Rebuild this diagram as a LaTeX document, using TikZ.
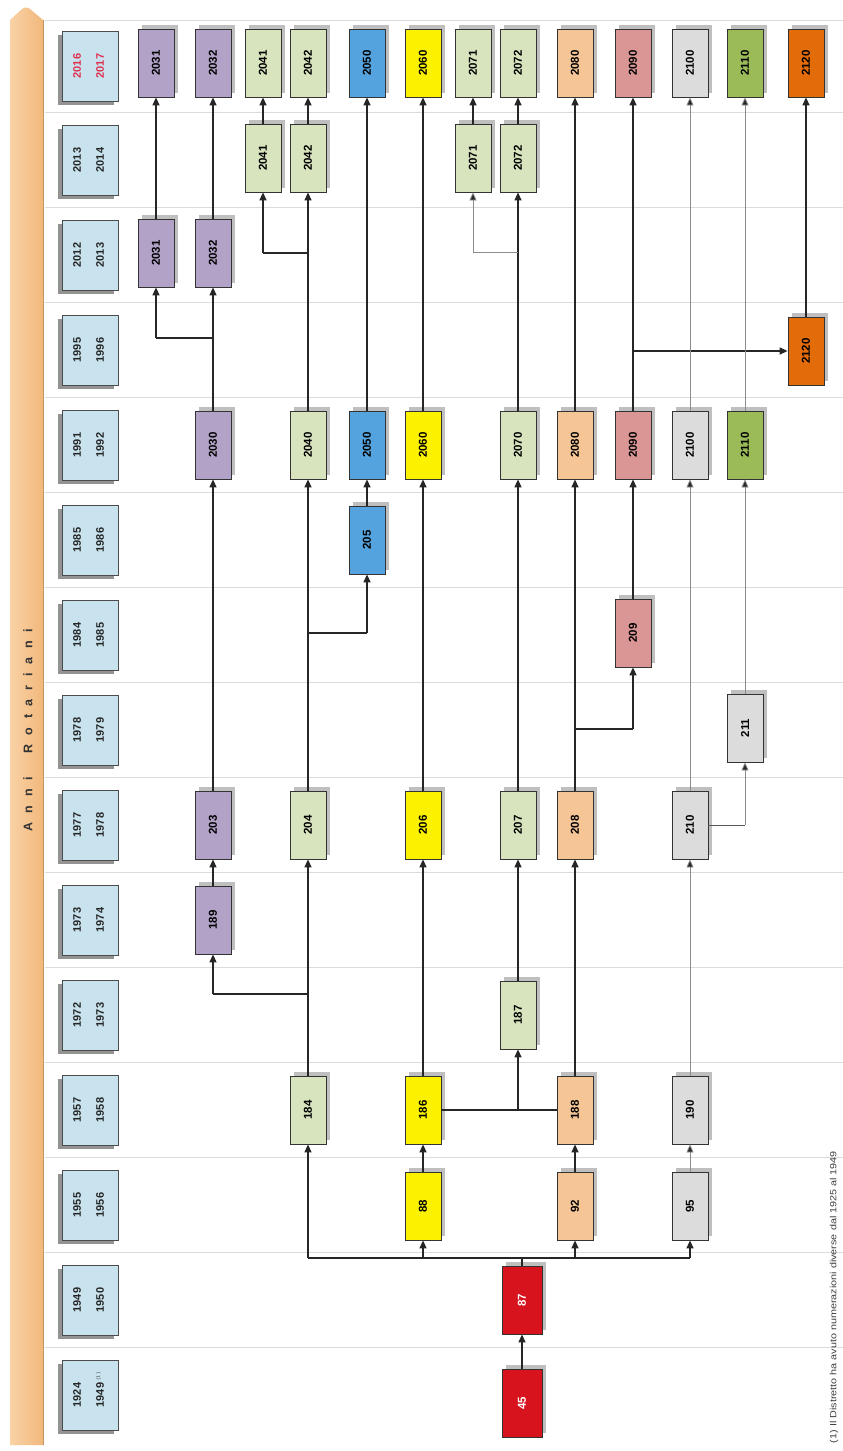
\documentclass[tikz,border=0pt]{standalone}
\usepackage{fontspec}
\usepackage{graphicx}
\setmainfont{Liberation Sans}
\usetikzlibrary{arrows.meta,shadows}

\definecolor{cpur}{HTML}{B3A2C7}
\definecolor{clgr}{HTML}{D7E4BD}
\definecolor{cblu}{HTML}{55A3DE}
\definecolor{cyel}{HTML}{FCF200}
\definecolor{cpea}{HTML}{F5C596}
\definecolor{cros}{HTML}{D99694}
\definecolor{cgry}{HTML}{DCDCDC}
\definecolor{cgrn}{HTML}{9BBB59}
\definecolor{cora}{HTML}{E26B0A}
\definecolor{cred}{HTML}{D7141E}
\definecolor{cyear}{HTML}{C8E3EE}
\definecolor{cbanL}{HTML}{F9D2A6}
\definecolor{cbanR}{HTML}{F2B87C}
\definecolor{cyr}{HTML}{E03050}

\newcommand\rtx[1]{\rotatebox{90}{#1}}
\newcommand\yrs[2]{\rotatebox{90}{\begin{tabular}{@{}c@{}}#1\\[11pt]#2\end{tabular}}}

\tikzset{
  dbox/.style={draw=black!80, line width=0.8pt, minimum width=36pt, minimum height=68pt,
    inner sep=0pt, font=\fontsize{11.5}{12}\selectfont\bfseries,
    drop shadow={shadow xshift=4pt, shadow yshift=4pt, fill=black!45, opacity=0.55}},
  rbox/.style={dbox, minimum width=40pt, fill=cred, text=white},
  ybox/.style={draw=black!70, line width=0.8pt, fill=cyear, minimum width=56pt, minimum height=70pt,
    inner sep=0pt, font=\fontsize{11}{12}\selectfont\bfseries, text=black!85,
    drop shadow={shadow xshift=-4pt, shadow yshift=-4pt, fill=black!60, opacity=0.7}},
  con/.style={line width=1.3pt, draw=black!85},
  arr/.style={con, -{Triangle[width=7pt,length=8pt]}},
  lite/.style={line width=0.8pt, draw=black!45},
  larr/.style={lite, -{Triangle[width=7pt,length=8pt,fill=black!85]}},
  sep/.style={draw=black!14, line width=0.9pt},
}

\begin{document}
\begin{tikzpicture}[x=1pt,y=-1pt]
\useasboundingbox (0,0) rectangle (843,1451);
\fill[white] (0,0) rectangle (843,1451);

% separators
\draw[sep] (45,20) -- (843,20);
\foreach \yy in {112,207,302,397,492,587,682,777,872,967,1062,1157,1252,1347}
  \draw[sep] (45,\yy) -- (843,\yy);

% banner
\shade[left color=cbanL, right color=cbanR]
  (10,1445) -- (10,20) -- (22,9) .. controls (25,7) and (27,7) .. (30,9) -- (43,20) -- (43,1445) -- cycle;
\draw[draw=cbanR!80!black, line width=0.8pt] (43,20) -- (43,1445);
\node[text=black!80, font=\fontsize{12.5}{14}\selectfont\bfseries] (title) at (28,730)
  {\rtx{\addfontfeature{LetterSpace=70}Anni\hspace{24pt}Rotariani}};

% year boxes
\node[ybox] (y1)  at (90,66)   {\yrs{\textcolor{cyr}{2016}}{\textcolor{cyr}{2017}}};
\node[ybox] (y2)  at (90,160)  {\yrs{2013}{2014}};
\node[ybox] (y3)  at (90,255)  {\yrs{2012}{2013}};
\node[ybox] (y4)  at (90,350)  {\yrs{1995}{1996}};
\node[ybox] (y5)  at (90,445)  {\yrs{1991}{1992}};
\node[ybox] (y6)  at (90,540)  {\yrs{1985}{1986}};
\node[ybox] (y7)  at (90,635)  {\yrs{1984}{1985}};
\node[ybox] (y8)  at (90,730)  {\yrs{1978}{1979}};
\node[ybox] (y9)  at (90,825)  {\yrs{1977}{1978}};
\node[ybox] (y10) at (90,920)  {\yrs{1973}{1974}};
\node[ybox] (y11) at (90,1015) {\yrs{1972}{1973}};
\node[ybox] (y12) at (90,1110) {\yrs{1957}{1958}};
\node[ybox] (y13) at (90,1205) {\yrs{1955}{1956}};
\node[ybox] (y14) at (90,1300) {\yrs{1949}{1950}};
\node[ybox] (y15) at (90,1395) {\yrs{1924}{1949\rlap{\,$^{\scriptscriptstyle(1)}$}}};

% district boxes
\node[rbox] (n45) at (522,1403) {\rtx{45}};
\node[rbox] (n87) at (522,1300) {\rtx{87}};

\node[dbox, fill=cyel] (n88) at (423,1206) {\rtx{88}};
\node[dbox, fill=cpea] (n92) at (575,1206) {\rtx{92}};
\node[dbox, fill=cgry] (n95) at (690,1206) {\rtx{95}};

\node[dbox, fill=clgr] (n184) at (308,1110) {\rtx{184}};
\node[dbox, fill=cyel] (n186) at (423,1110) {\rtx{186}};
\node[dbox, fill=cpea] (n188) at (575,1110) {\rtx{188}};
\node[dbox, fill=cgry] (n190) at (690,1110) {\rtx{190}};

\node[dbox, fill=clgr] (n187) at (518,1015) {\rtx{187}};
\node[dbox, fill=cpur] (n189) at (213,920) {\rtx{189}};

\node[dbox, fill=cpur] (n203) at (213,825) {\rtx{203}};
\node[dbox, fill=clgr] (n204) at (308,825) {\rtx{204}};
\node[dbox, fill=cyel] (n206) at (423,825) {\rtx{206}};
\node[dbox, fill=clgr] (n207) at (518,825) {\rtx{207}};
\node[dbox, fill=cpea] (n208) at (575,825) {\rtx{208}};
\node[dbox, fill=cgry] (n210) at (690,825) {\rtx{210}};

\node[dbox, fill=cgry] (n211) at (745,728) {\rtx{211}};
\node[dbox, fill=cros] (n209) at (633,633) {\rtx{209}};
\node[dbox, fill=cblu] (n205) at (367,540) {\rtx{205}};

\node[dbox, fill=cpur] (n2030) at (213,445) {\rtx{2030}};
\node[dbox, fill=clgr] (n2040) at (308,445) {\rtx{2040}};
\node[dbox, fill=cblu] (n2050) at (367,445) {\rtx{2050}};
\node[dbox, fill=cyel] (n2060) at (423,445) {\rtx{2060}};
\node[dbox, fill=clgr] (n2070) at (518,445) {\rtx{2070}};
\node[dbox, fill=cpea] (n2080) at (575,445) {\rtx{2080}};
\node[dbox, fill=cros] (n2090) at (633,445) {\rtx{2090}};
\node[dbox, fill=cgry] (n2100) at (690,445) {\rtx{2100}};
\node[dbox, fill=cgrn] (n2110) at (745,445) {\rtx{2110}};

\node[dbox, fill=cora] (n2120a) at (806,351) {\rtx{2120}};

\node[dbox, fill=cpur] (n2031a) at (156,253) {\rtx{2031}};
\node[dbox, fill=cpur] (n2032a) at (213,253) {\rtx{2032}};

\node[dbox, fill=clgr] (n2041a) at (263,158) {\rtx{2041}};
\node[dbox, fill=clgr] (n2042a) at (308,158) {\rtx{2042}};
\node[dbox, fill=clgr] (n2071a) at (473,158) {\rtx{2071}};
\node[dbox, fill=clgr] (n2072a) at (518,158) {\rtx{2072}};

\node[dbox, fill=cpur] (n2031) at (156,63) {\rtx{2031}};
\node[dbox, fill=cpur] (n2032) at (213,63) {\rtx{2032}};
\node[dbox, fill=clgr] (n2041) at (263,63) {\rtx{2041}};
\node[dbox, fill=clgr] (n2042) at (308,63) {\rtx{2042}};
\node[dbox, fill=cblu] (n2050b) at (367,63) {\rtx{2050}};
\node[dbox, fill=cyel] (n2060b) at (423,63) {\rtx{2060}};
\node[dbox, fill=clgr] (n2071) at (473,63) {\rtx{2071}};
\node[dbox, fill=clgr] (n2072) at (518,63) {\rtx{2072}};
\node[dbox, fill=cpea] (n2080b) at (575,63) {\rtx{2080}};
\node[dbox, fill=cros] (n2090b) at (633,63) {\rtx{2090}};
\node[dbox, fill=cgry] (n2100b) at (690,63) {\rtx{2100}};
\node[dbox, fill=cgrn] (n2110b) at (745,63) {\rtx{2110}};
\node[dbox, fill=cora] (n2120) at (806,63) {\rtx{2120}};

% connectors
\draw[arr] (n45) -- (n87);

\coordinate (b87)  at (522,1258);
\coordinate (b184) at (308,1258);
\coordinate (b88)  at (423,1258);
\coordinate (b92)  at (575,1258);
\coordinate (b95)  at (690,1258);
\draw[con] (n87.north) -- (b87);
\draw[con] (b184) -- (b95);
\draw[arr] (b184) -- (n184.south);
\draw[arr] (b88) -- (n88.south);
\draw[arr] (b92) -- (n92.south);
\draw[arr] (b95) -- (n95.south);

\draw[arr] (n88) -- (n186);
\draw[arr] (n92) -- (n188);
\draw[larr] (n95) -- (n190);

\coordinate (b187) at (518,1110);
\draw[con] (n186.east) -- (n188.west);
\draw[arr] (b187) -- (n187.south);

\coordinate (b189a) at (308,994);
\coordinate (b189b) at (213,994);
\draw[arr] (n184) -- (n204);
\draw[con] (b189a) -- (b189b);
\draw[arr] (b189b) -- (n189.south);

\draw[arr] (n189) -- (n203);
\draw[arr] (n186) -- (n206);
\draw[arr] (n187) -- (n207);
\draw[arr] (n188) -- (n208);
\draw[larr] (n190) -- (n210);

\coordinate (b211) at (745,825);
\draw[con, line width=1pt, draw=black!65] (n210.east) -- (b211);
\draw[larr] (b211) -- (n211.south);
\draw[larr] (n211) -- (n2110);
\draw[larr] (n210) -- (n2100);

\coordinate (b209a) at (575,729);
\coordinate (b209b) at (633,729);
\draw[arr] (n208) -- (n2080);
\draw[con] (b209a) -- (b209b);
\draw[arr] (b209b) -- (n209.south);
\draw[arr] (n209) -- (n2090);

\coordinate (b205a) at (308,633);
\coordinate (b205b) at (367,633);
\draw[arr] (n204) -- (n2040);
\draw[con] (b205a) -- (b205b);
\draw[arr] (b205b) -- (n205.south);
\draw[arr] (n205) -- (n2050);

\draw[arr] (n203) -- (n2030);
\draw[arr] (n206) -- (n2060);
\draw[arr] (n207) -- (n2070);

\coordinate (b2120) at (633,351);
\draw[arr] (n2090) -- (n2090b);
\draw[arr] (b2120) -- (n2120a.west);
\draw[arr] (n2120a) -- (n2120);

\coordinate (b2031a) at (213,338);
\coordinate (b2031b) at (156,338);
\draw[arr] (n2030) -- (n2032a);
\draw[con] (b2031a) -- (b2031b);
\draw[arr] (b2031b) -- (n2031a.south);
\draw[arr] (n2031a) -- (n2031);
\draw[arr] (n2032a) -- (n2032);

\coordinate (b2041a) at (308,253);
\coordinate (b2041b) at (263,253);
\draw[arr] (n2040) -- (n2042a);
\draw[con] (b2041a) -- (b2041b);
\draw[arr] (b2041b) -- (n2041a.south);
\draw[arr] (n2041a) -- (n2041);
\draw[arr] (n2042a) -- (n2042);

\coordinate (b2071a) at (518,252);
\coordinate (b2071b) at (473,252);
\draw[arr] (n2070) -- (n2072a);
\draw[lite] (b2071a) -- (b2071b);
\draw[larr] (b2071b) -- (n2071a.south);
\draw[arr] (n2071a) -- (n2071);
\draw[arr] (n2072a) -- (n2072);

\draw[arr] (n2050) -- (n2050b);
\draw[arr] (n2060) -- (n2060b);
\draw[arr] (n2080) -- (n2080b);
\draw[larr] (n2100) -- (n2100b);
\draw[larr] (n2110) -- (n2110b);

% footnote
\node[inner sep=0pt, text=black!75] (foot) at (834,1297)
  {\rtx{\resizebox{292pt}{6.5pt}{(1) Il Distretto ha avuto numerazioni diverse dal 1925 al 1949}}};
\end{tikzpicture}
\end{document}
